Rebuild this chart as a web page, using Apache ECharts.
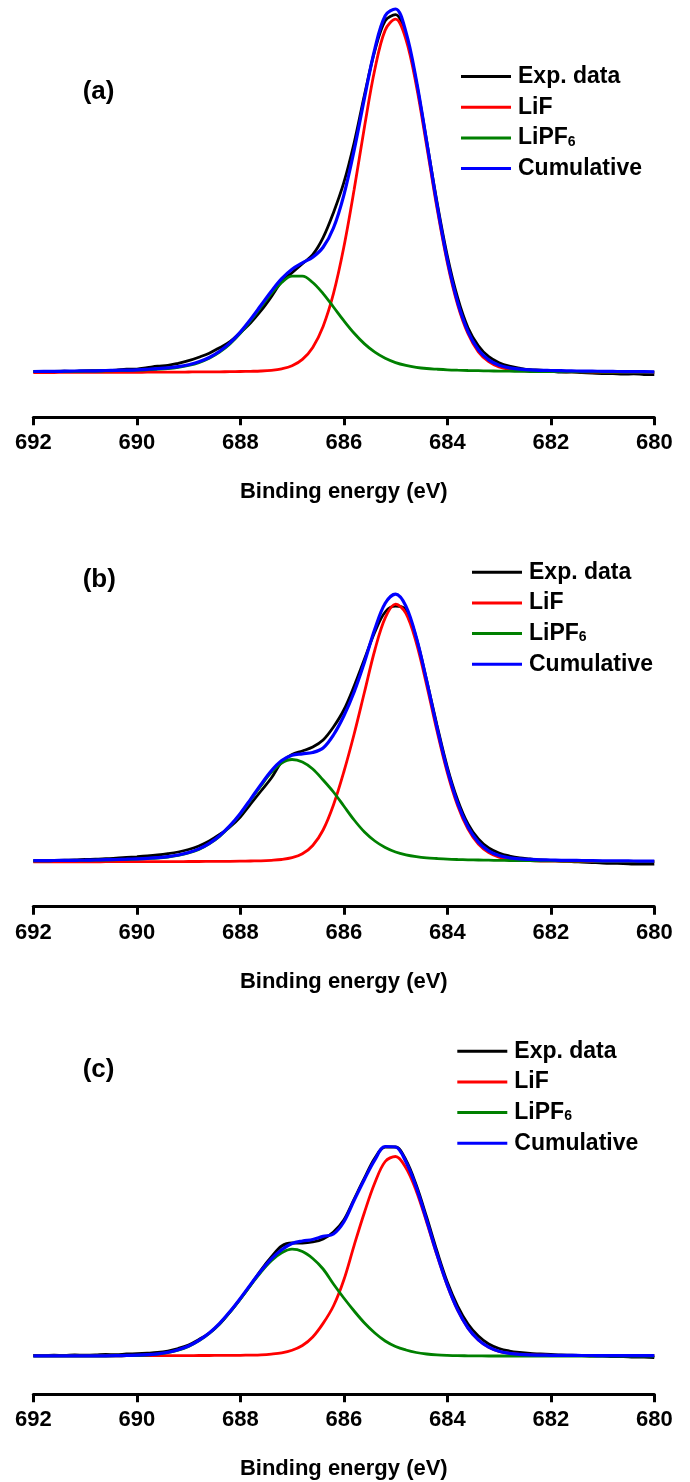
<!DOCTYPE html>
<html><head><meta charset="utf-8">
<script src="https://cdn.jsdelivr.net/npm/echarts@6/dist/echarts.min.js"></script>
<style>html,body{margin:0;padding:0;background:#fff;}#c{width:690px;height:1482px;}</style>
</head><body><div id="c"></div>
<script>
// Binding energy grid (eV)
const energy = [692.0,691.8,691.6,691.4,691.2,691.0,690.8,690.6,690.4,690.2,
690.0,689.8,689.6,689.4,689.2,689.0,688.8,688.6,688.4,688.2,
688.0,687.8,687.6,687.4,687.2,687.0,686.8,686.6,686.4,686.2,
686.0,685.8,685.6,685.4,685.2,685.0,684.8,684.6,684.4,684.2,
684.0,683.8,683.6,683.4,683.2,683.0,682.8,682.6,682.4,682.2,
682.0,681.8,681.6,681.4,681.2,681.0,680.8,680.6,680.4,680.2,680.0];

const seriesNames = ['Exp. data','LiF','LiPF6','Cumulative'];
const panelLabels = ['(a)','(b)','(c)'];
const xTitle = 'Binding energy (eV)';

// Panel (a) intensities (a.u.)
const expA = [1.0,0.6,1.2,1.5,1.2,1.8,2.0,2.2,2.6,3.5,
3.6,5.0,6.5,7.3,9.4,12.0,15.5,19.5,25.0,31.0,
40.0,50.0,62.0,76.0,91.0,100.0,109.0,118.0,135.0,160.0,
190.0,230.0,278.0,322.0,352.0,358.0,337.0,291.0,232.0,171.0,
117.0,75.0,45.0,27.0,16.0,10.0,6.5,4.5,3.0,2.5,
1.5,0.5,0.8,0.0,-0.5,-0.8,-1.0,-1.5,-1.2,-1.8,-2.0];
const lifA = [0.2,0.2,0.2,0.3,0.3,0.3,0.3,0.4,0.4,0.4,
0.4,0.5,0.5,0.6,0.6,0.7,0.8,0.8,0.9,1.0,
1.2,1.4,1.7,2.4,3.9,6.9,13.3,25.3,46.3,79.0,
125.4,183.1,246.0,303.4,342.6,353.6,333.4,287.5,227.3,164.9,
110.1,67.9,38.9,20.9,11.0,5.8,3.3,2.2,1.6,1.3,
1.1,1.0,0.9,0.8,0.7,0.7,0.6,0.5,0.5,0.5,0.4];
const lipf6A = [1.0,1.1,1.1,1.2,1.4,1.5,1.6,1.8,2.0,2.2,
2.5,2.9,3.5,4.2,5.4,7.3,10.1,14.4,20.5,28.8,
39.4,52.0,65.7,79.1,90.2,96.6,96.6,90.2,79.1,65.7,
52.0,39.4,28.8,20.5,14.4,10.1,7.3,5.4,4.2,3.5,
2.9,2.5,2.2,2.0,1.8,1.6,1.5,1.4,1.2,1.1,
1.1,1.0,0.9,0.8,0.8,0.7,0.7,0.6,0.6,0.6,0.5];
const cumA = [1.2,1.3,1.3,1.5,1.7,1.8,1.9,2.2,2.4,2.6,
2.9,3.4,4.0,4.8,6.0,8.0,10.9,15.2,21.4,29.8,
40.6,53.4,67.4,81.5,94.1,103.5,109.9,115.5,125.4,144.7,
177.4,222.5,274.8,323.9,357.0,363.7,340.7,292.9,231.5,168.4,
113.0,70.4,41.1,22.9,12.8,7.4,4.8,3.6,2.8,2.4,
2.2,2.0,1.8,1.6,1.5,1.4,1.3,1.1,1.1,1.1,0.9];

// Panel (b)
const expB = [1.0,1.3,1.5,1.8,2.0,2.5,2.8,3.3,3.8,4.5,
5.2,6.0,7.0,8.3,10.0,12.5,16.0,21.0,27.5,35.0,
45.0,58.0,71.0,84.0,100.0,107.5,111.0,115.0,122.0,135.0,
152.0,176.0,203.0,230.0,250.0,256.0,252.0,224.0,182.0,137.0,
95.0,62.0,38.0,23.0,14.0,9.0,6.0,4.0,3.0,2.0,
1.5,1.2,0.5,0.0,-0.5,-1.0,-1.3,-1.5,-2.0,-2.2,-2.0];
const lifB = [0.2,0.2,0.2,0.2,0.2,0.2,0.2,0.3,0.3,0.3,
0.3,0.3,0.4,0.4,0.4,0.5,0.5,0.6,0.7,0.7,
0.8,1.0,1.2,1.7,2.5,4.3,8.2,16.5,32.0,57.0,
90.0,128.0,170.0,212.0,244.2,257.9,248.7,219.3,177.1,131.2,
89.4,56.2,32.8,17.9,9.4,4.9,2.7,1.7,1.3,1.0,
0.9,0.7,0.7,0.6,0.5,0.5,0.5,0.4,0.4,0.3,0.3];
const lipf6B = [1.1,1.2,1.3,1.4,1.5,1.6,1.8,2.0,2.2,2.5,
2.9,3.4,4.0,5.0,6.6,9.0,12.6,18.1,25.6,35.6,
47.8,61.9,76.4,89.6,99.0,102.5,100.0,93.0,82.0,70.0,
56.0,42.0,30.0,21.0,14.5,10.0,7.2,5.4,4.2,3.5,
2.9,2.5,2.2,2.0,1.8,1.6,1.5,1.4,1.3,1.2,
1.1,1.0,0.9,0.9,0.8,0.7,0.7,0.7,0.6,0.6,0.6];
const cumB = [1.3,1.4,1.5,1.6,1.7,1.8,2.0,2.3,2.5,2.8,
3.2,3.7,4.4,5.4,7.0,9.5,13.1,18.7,26.3,36.3,
48.6,62.9,77.6,91.3,101.5,106.8,108.2,109.5,114.0,127.0,
146.0,170.0,200.0,233.0,258.7,267.9,255.9,224.7,181.3,134.7,
92.3,58.7,35.0,19.9,11.2,6.5,4.2,3.1,2.6,2.2,
2.0,1.7,1.6,1.5,1.3,1.2,1.2,1.1,1.0,0.9,0.9];

// Panel (c)
const expC = [0.5,0.3,0.8,0.5,1.0,0.8,1.0,1.5,1.3,2.0,
2.3,2.8,3.5,5.0,7.5,11.0,16.5,23.0,32.0,44.0,
57.0,71.0,86.0,99.0,110.0,113.0,113.0,114.0,117.0,124.0,
136.0,157.0,178.0,198.0,209.0,209.0,196.0,171.0,139.0,105.0,
74.0,50.0,32.0,20.0,12.0,7.5,5.0,3.5,2.5,2.0,
1.5,1.0,0.8,0.5,0.0,0.0,-0.5,-0.5,-1.0,-1.0,-1.5];
const lifC = [0.1,0.2,0.2,0.2,0.2,0.2,0.2,0.2,0.2,0.3,
0.3,0.3,0.3,0.3,0.4,0.4,0.5,0.5,0.6,0.6,
0.7,0.9,1.2,1.9,3.1,5.7,10.5,19.0,32.6,50.0,
76.0,110.7,143.8,173.2,194.5,199.5,188.2,165.1,134.0,100.9,
70.5,45.8,27.8,16.0,8.8,4.7,2.7,1.6,1.1,0.9,
0.7,0.6,0.6,0.5,0.5,0.4,0.4,0.4,0.4,0.3,0.3];
const lipf6C = [0,0,0,0,0,0,0,0,0.1,0.3,
0.5,1.0,1.9,3.4,5.9,9.6,15.1,22.5,32.1,43.8,
56.9,70.7,84.0,95.3,103.2,106.8,104.5,97.5,87.0,72.0,
58.0,45.0,33.0,23.0,15.0,9.5,6.0,3.5,2.0,1.1,
0.6,0.3,0.2,0.1,0,0,0,0,0,0,
0,0,0,0,0,0,0,0,0,0,0];
const cumC = [0.1,0.2,0.2,0.2,0.2,0.2,0.2,0.2,0.3,0.6,
0.8,1.3,2.2,3.7,6.3,10.0,15.6,23.0,32.7,44.4,
57.6,71.6,85.2,97.2,106.3,112.5,115.0,116.5,119.6,122.0,
134.0,155.7,176.8,196.2,209.5,209.0,194.2,168.6,136.0,102.0,
71.1,46.1,28.0,16.1,8.8,4.7,2.7,1.6,1.1,0.9,
0.7,0.6,0.6,0.5,0.5,0.4,0.4,0.4,0.4,0.3,0.3];

const FONT = '"Liberation Sans", Arial, Helvetica, sans-serif';
const colors = ['#000000','#ff0000','#008000','#0000ff'];
const widths = [2.8,2.8,2.8,3.2];

// layout (pixels)
const panels = [
  {data:[expA,lifA,lipf6A,cumA], top:1,    axisY:417.3,  base:372.7, legLeft:461, legTop:65,     labY:94.2},
  {data:[expB,lifB,lipf6B,cumB], top:540,  axisY:906.7,  base:862.0, legLeft:472, legTop:560.7,  labY:582.5},
  {data:[expC,lifC,lipf6C,cumC], top:1030, axisY:1394.3, base:1356.0,legLeft:457.3, legTop:1039.7, labY:1072.5}
];

const grid=[], xAxis=[], yAxis=[], series=[], legend=[], graphic=[];
panels.forEach((p,i)=>{
  grid.push({left:33.3, width:621, top:p.top, height:p.axisY-p.top, outerBoundsMode:'none', containLabel:false});
  xAxis.push({gridIndex:i, type:'value', min:680, max:692, interval:2, inverse:true,
    axisLine:{show:true, onZero:false, lineStyle:{color:'#000', width:3}},
    axisTick:{show:true, length:8, lineStyle:{color:'#000', width:3}},
    minorTick:{show:false},
    axisLabel:{fontSize:22, fontWeight:'bold', fontFamily:FONT, color:'#000', margin:15},
    splitLine:{show:false},
    name:xTitle, nameLocation:'middle', nameGap:64,
    nameTextStyle:{fontSize:22, fontWeight:'bold', fontFamily:FONT, color:'#000'}});
  yAxis.push({gridIndex:i, type:'value', min:-(p.axisY-p.base), max:p.base-p.top, show:false,
    axisLine:{show:false}, splitLine:{show:false}});
  p.data.forEach((arr,k)=>{
    series.push({type:'line', name:seriesNames[k], xAxisIndex:i, yAxisIndex:i,
      data: energy.map((e,j)=>[e, arr[j]]), symbol:'none', showSymbol:false, smooth:0.35,
      lineStyle:{color:colors[k], width:widths[k]}, itemStyle:{color:colors[k]},
      silent:true, z:2+k});
  });
  legend.push({data:seriesNames, orient:'vertical', left:p.legLeft, top:p.legTop,
    itemWidth:50, itemHeight:3, itemGap:7.7, icon:'rect', selectedMode:false, padding:0,
    textStyle:{fontSize:23, fontWeight:'bold', fontFamily:FONT, color:'#000', lineHeight:22, padding:[0,0,0,2],
      rich:{sub:{fontSize:14, fontWeight:'bold', fontFamily:FONT, color:'#000', lineHeight:14, verticalAlign:'bottom'}}},
    formatter: n => n==='LiPF6' ? 'LiPF{sub|6}' : n});
  graphic.push({type:'text', left:82.7, top:p.labY-15.3,
    style:{text:panelLabels[i], fontSize:26, fontWeight:'bold', fontFamily:FONT, fill:'#000'}});
});

const chart = echarts.init(document.getElementById('c'), null, {renderer:'canvas'});
chart.setOption({animation:false, backgroundColor:'#fff', grid, xAxis, yAxis, series, legend, graphic});
</script>
</body></html>
